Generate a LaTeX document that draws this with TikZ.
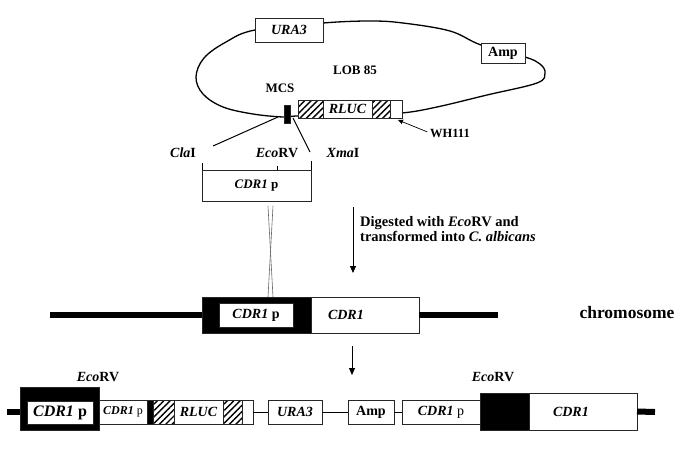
\documentclass[tikz,border=0pt]{standalone}
\usepackage{fontspec}
\setmainfont{Liberation Serif}
\usetikzlibrary{arrows.meta, patterns.meta, calc}
\colorlet{boxline}{black!85}
\colorlet{crossline}{black!60}

\begin{document}
\begin{tikzpicture}[
    x=1pt, y=-1pt,
    >={Triangle[length=7pt, width=6pt]},
    lbl/.style={font=\fontsize{14}{15}\selectfont\bfseries, inner sep=0pt},
    gbox/.style={draw=boxline, line width=0.8pt, fill=white, inner sep=0pt,
                 outer sep=0pt, font=\fontsize{14}{15}\selectfont\bfseries},
    hatchbox/.style={gbox, preaction={fill=white},
                     pattern={Lines[angle=45, distance=4.5pt, line width=1.4pt]}},
    blackbox/.style={gbox, fill=black},
    plasmid/.style={line width=1.3pt},
    link/.style={line width=1pt},
    chrom/.style={line width=6.5pt},
    tick/.style={line width=0.8pt},
    xover/.style={draw=crossline, line width=0.6pt},
    flowarr/.style={->, line width=0.8pt},
]

\useasboundingbox (0,0) rectangle (685,450);

% ════════════════════════════════════════════════════════════
% TOP: the plasmid LOB 85
% ════════════════════════════════════════════════════════════
\draw[plasmid] plot[smooth cycle, tension=0.6] coordinates {
    (196,77) (204,58) (226,42) (255,30) (323,23) (370,21) (403,23)
    (450,31) (481,45) (525,57) (540,64) (545,73) (537,83) (487,95) (437,107)
    (402,113) (350,116) (298,116) (283,117) (253,114) (223,107) (203,94)};

\node[gbox, minimum width=68pt, minimum height=24pt] (ura3p) at (289,30) {\textit{URA3}};
\node[gbox, minimum width=44pt, minimum height=20pt] (ampp) at (503,53) {Amp};
\node[lbl, font=\fontsize{13}{14}\selectfont\bfseries] (lob) at (355,70) {LOB 85};
\node[lbl, font=\fontsize{13}{14}\selectfont\bfseries] (mcs) at (280,88) {MCS};
\node[blackbox, minimum width=6pt, minimum height=18pt] (mcsbox) at (287,114) {};

% ── RLUC cassette on the plasmid ──
\node[hatchbox, minimum width=25pt, minimum height=18pt] (hl1) at (310.5,109) {};
\node[gbox, minimum width=49pt, minimum height=18pt] (rlucp) at (347.5,109) {\textit{RLUC}};
\node[hatchbox, minimum width=18pt, minimum height=18pt] (hr1) at (381,109) {};
\node[gbox, minimum width=12pt, minimum height=18pt] (tailp) at (396,109) {};

\node[lbl, font=\fontsize{12.5}{13}\selectfont\bfseries] (wh) at (450,133) {WH111};
\coordinate (whtip) at (398,120);
\draw[->, >={Triangle[length=5pt, width=4.5pt]}, line width=0.7pt, shorten <=3pt]
    (wh.west) -- (whtip);

% ── MCS opened up ──
\coordinate (mcsl) at (278,117);
\coordinate (clatop) at (213,146);
\coordinate (mcsr) at (293,118);
\coordinate (xmatop) at (310,152);
\draw[line width=1pt] (mcsl) -- (clatop);
\draw[line width=1pt] (mcsr) -- (xmatop);

\node[lbl] (cla) at (183,153) {\textit{Cla}I};
\node[lbl] (ecot) at (277,153) {\textit{Eco}RV};
\node[lbl] (xma) at (343,153) {\textit{Xma}I};

\node[gbox, minimum width=109pt, minimum height=31pt,
      font=\fontsize{13}{14}\selectfont\bfseries] (frag) at (256.5,185.5) {\textit{CDR1} p};
\coordinate (ecotick) at (277,170);
\draw[tick] (frag.north west) -- ++(0,-7);
\draw[tick] (ecotick) -- ++(0,-4);
\draw[tick] (frag.north east) -- ++(0,-9);

% ── crossing-over ──
\coordinate (xa) at (268,206);
\coordinate (xb) at (273,206);
\coordinate (xc) at (268,297);
\coordinate (xd) at (273,297);
\draw[xover] (xa) -- (xd);
\draw[xover] (xb) -- (xc);

\coordinate (dgtop) at (353,207);
\coordinate (dgbot) at (353,273);
\draw[flowarr] (dgtop) -- (dgbot);
\node[lbl, font=\fontsize{14.5}{15}\selectfont\bfseries, align=left, anchor=north west]
    (dig) at (360,216) {Digested with \textit{Eco}RV and\\transformed into \textit{C. albicans}};

% ════════════════════════════════════════════════════════════
% MIDDLE: the chromosome
% ════════════════════════════════════════════════════════════
\node[blackbox, minimum width=109pt, minimum height=36pt] (chrblk) at (256.5,315) {};
\node[gbox, minimum width=74pt, minimum height=24pt] (chrprom) at (256,315) {\textit{CDR1} p};
\node[gbox, minimum height=36pt, text width=74pt, align=left, inner xsep=17pt]
    (chrcdr) at (365,315) {\textit{CDR1}};
\coordinate (chrL) at (50,315);
\coordinate (chrR) at (498,315);
\draw[chrom] (chrL) -- (chrblk.west);
\draw[chrom] (chrcdr.east) -- (chrR);
\node[lbl, font=\fontsize{17.5}{18}\selectfont\bfseries] (chrlbl) at (627,313) {chromosome};

\coordinate (intop) at (352,346);
\coordinate (inbot) at (352,375);
\draw[flowarr] (intop) -- (inbot);

% ════════════════════════════════════════════════════════════
% BOTTOM: after integration
% ════════════════════════════════════════════════════════════
\node[blackbox, minimum width=79pt, minimum height=43pt] (bblk1) at (59.5,408.5) {};
\node[gbox, minimum width=66pt, minimum height=23pt,
      font=\fontsize{16}{17}\selectfont\bfseries] (bprom1) at (60,412.5) {\textit{CDR1} p};
\node[gbox, minimum width=48pt, minimum height=24pt,
      font=\fontsize{12}{13}\selectfont\bfseries] (bprom2) at (123,412) {\textit{CDR1} {\mdseries p}};
\node[blackbox, minimum width=6pt, minimum height=24pt] (bmcs) at (150,412) {};
\node[hatchbox, minimum width=21pt, minimum height=24pt] (bhl) at (163.5,412) {};
\node[gbox, minimum width=49pt, minimum height=24pt] (brluc) at (198.5,412) {\textit{RLUC}};
\node[hatchbox, minimum width=19pt, minimum height=24pt] (bhr) at (232.5,412) {};
\node[gbox, minimum width=11pt, minimum height=24pt] (btail) at (247.5,412) {};
\node[gbox, minimum width=54pt, minimum height=24pt] (bura3) at (295,412) {\textit{URA3}};
\node[gbox, minimum width=46pt, minimum height=24pt] (bamp) at (371,412) {Amp};
\node[gbox, minimum width=78pt, minimum height=24pt] (bprom3) at (441,412) {\textit{CDR1} {\mdseries p}};
\node[blackbox, minimum width=49pt, minimum height=37pt] (bblk2) at (504.5,411.5) {};
\node[gbox, minimum height=37pt, text width=60pt, align=left, inner xsep=24pt]
    (bcdr) at (583,411.5) {\textit{CDR1}};

\draw[link] (btail) -- (bura3);
\draw[link] (bura3) -- (bamp);
\draw[link] (bamp) -- (bprom3);

\coordinate (bL) at (7,412);
\coordinate (bR) at (655,412);
\draw[chrom, line width=6pt] (bL) -- (bblk1.west |- bL);
\draw[chrom, line width=6pt] (bcdr.east) -- (bR);

\node[lbl] (eco1) at (98,377) {\textit{Eco}RV};
\node[lbl] (eco2) at (493,377) {\textit{Eco}RV};

\end{tikzpicture}
\end{document}
